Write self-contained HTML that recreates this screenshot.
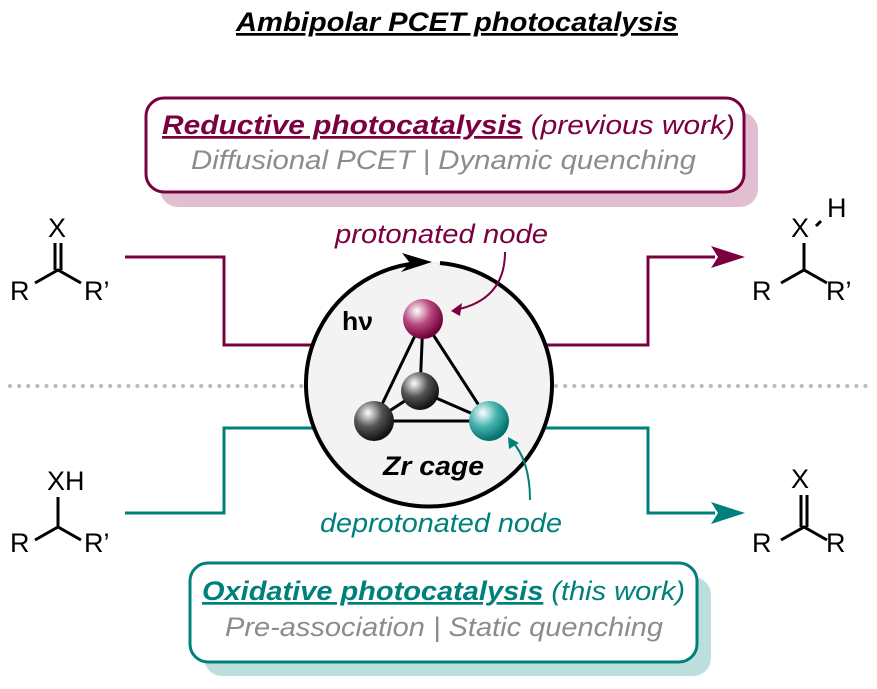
<!DOCTYPE html>
<html><head><meta charset="utf-8"><style>
html,body{margin:0;padding:0;background:#fff;width:877px;height:689px;overflow:hidden}
svg{display:block;font-family:"Liberation Sans",sans-serif}
</style></head><body>
<svg width="877" height="689" viewBox="0 0 877 689">
<defs>
<radialGradient id="gm" cx="0.35" cy="0.3" r="0.7"><stop offset="0" stop-color="#fff"/><stop offset="0.5" stop-color="#b8487e"/><stop offset="1" stop-color="#6e0038"/></radialGradient>
<radialGradient id="gg" cx="0.35" cy="0.3" r="0.7"><stop offset="0" stop-color="#fff"/><stop offset="0.5" stop-color="#555"/><stop offset="1" stop-color="#111"/></radialGradient>
<radialGradient id="gt" cx="0.35" cy="0.3" r="0.7"><stop offset="0" stop-color="#fff"/><stop offset="0.5" stop-color="#45b2ae"/><stop offset="1" stop-color="#00706c"/></radialGradient>
</defs>
<text x="236" y="31" font-size="27" font-weight="bold" font-style="italic" textLength="442" lengthAdjust="spacingAndGlyphs" text-decoration="underline" fill="#000">Ambipolar PCET photocatalysis</text>

<!-- top box -->
<rect x="160" y="112" width="598" height="95" rx="18" fill="#e2bfd0"/>
<rect x="146" y="98" width="598" height="94" rx="18" fill="#fff" stroke="#7a0040" stroke-width="3"/>
<text x="162" y="134" font-size="27" font-style="italic" fill="#7a0040" textLength="573" lengthAdjust="spacingAndGlyphs"><tspan font-weight="bold" text-decoration="underline">Reductive photocatalysis</tspan> (previous work)</text>
<text x="191" y="169" font-size="27" font-style="italic" fill="#8c8c8c" textLength="505" lengthAdjust="spacingAndGlyphs">Diffusional PCET | Dynamic quenching</text>

<!-- bottom box -->
<rect x="204" y="577" width="507" height="99" rx="18" fill="#bcdedd"/>
<rect x="190" y="563" width="507" height="99" rx="18" fill="#fff" stroke="#00807b" stroke-width="3"/>
<text x="202" y="600" font-size="27" font-style="italic" fill="#00807b" textLength="483" lengthAdjust="spacingAndGlyphs"><tspan font-weight="bold" text-decoration="underline">Oxidative photocatalysis</tspan> (this work)</text>
<text x="225" y="636" font-size="27" font-style="italic" fill="#8c8c8c" textLength="438" lengthAdjust="spacingAndGlyphs">Pre-association | Static quenching</text>

<!-- dotted -->
<line x1="10" y1="386" x2="870" y2="386" stroke="#bbb" stroke-width="4" stroke-dasharray="0.1 9" stroke-linecap="round"/>

<!-- connectors -->
<polyline points="125,257 224,257 224,345 320,345" fill="none" stroke="#7a0040" stroke-width="3"/>
<polyline points="545,345 648,345 648,257 715,257" fill="none" stroke="#7a0040" stroke-width="3"/>
<polygon points="745,257 711,246 718,257 711,268" fill="#7a0040"/>
<polyline points="125,513 224,513 224,428 320,428" fill="none" stroke="#00807b" stroke-width="3"/>
<polyline points="545,428 648,428 648,513 715,513" fill="none" stroke="#00807b" stroke-width="3"/>
<polygon points="745,513 711,502 718,513 711,524" fill="#00807b"/>

<!-- circle -->
<circle cx="431" cy="385" r="123" fill="#f3f3f3"/>
<path d="M 440 263 A 123 122 0 1 1 418 263" fill="none" stroke="#000" stroke-width="4"/>
<polygon points="432,262 402,253 410,263 401,272" fill="#000"/>
<text x="342" y="330" font-size="26" font-weight="bold" fill="#000" textLength="31" lengthAdjust="spacingAndGlyphs">hν</text>

<!-- cage -->
<g stroke="#000" stroke-width="3">
<line x1="423" y1="319" x2="374" y2="421"/>
<line x1="423" y1="319" x2="489" y2="421"/>
<line x1="423" y1="319" x2="420" y2="391"/>
<line x1="374" y1="421" x2="489" y2="421"/>
<line x1="374" y1="421" x2="420" y2="391"/>
<line x1="420" y1="391" x2="489" y2="421"/>
</g>
<circle cx="420" cy="391" r="19" fill="url(#gg)"/>
<circle cx="374" cy="421" r="20" fill="url(#gg)"/>
<circle cx="489" cy="421" r="20" fill="url(#gt)"/>
<circle cx="423" cy="319" r="20" fill="url(#gm)"/>
<text x="383" y="475" font-size="27" font-weight="bold" font-style="italic" fill="#000" textLength="101" lengthAdjust="spacingAndGlyphs">Zr cage</text>

<!-- labels -->
<text x="335" y="243" font-size="27" font-style="italic" fill="#7a0040" textLength="213" lengthAdjust="spacingAndGlyphs">protonated node</text>
<path d="M505 252 Q 505 300 455 310" fill="none" stroke="#7a0040" stroke-width="2"/>
<polygon points="451,311 462,303 460,316" fill="#7a0040"/>
<text x="320" y="532" font-size="27" font-style="italic" fill="#00807b" textLength="242" lengthAdjust="spacingAndGlyphs">deprotonated node</text>
<path d="M530 500 Q 530 460 511 440" fill="none" stroke="#00807b" stroke-width="2"/>
<polygon points="508,437 519,443 509,449" fill="#00807b"/>

<!-- molecules -->
<g font-size="27" fill="#000" stroke="none">
<text x="48" y="237">X</text>
<text x="10" y="300">R</text><text x="84" y="300">R’</text>
<text x="47" y="490">XH</text>
<text x="10" y="552">R</text><text x="84" y="552">R’</text>
<text x="791" y="237">X</text><text x="827" y="217">H</text>
<text x="752" y="300">R</text><text x="826" y="300">R’</text>
<text x="791" y="488">X</text>
<text x="752" y="552">R</text><text x="826" y="552">R</text>
</g>
<g stroke="#000" stroke-width="3" fill="none">
<line x1="55" y1="243" x2="55" y2="270"/><line x1="61" y1="243" x2="61" y2="270"/>
<polyline points="35,283 58,270 81,283"/>
<line x1="58" y1="497" x2="58" y2="527"/>
<polyline points="35,540 58,527 81,540"/>
<line x1="804" y1="243" x2="804" y2="270"/>
<polyline points="781,283 804,270 827,283"/>
<line x1="816" y1="226" x2="821" y2="221"/>
<line x1="801" y1="495" x2="801" y2="527"/><line x1="807" y1="495" x2="807" y2="527"/>
<polyline points="781,540 804,527 827,540"/>
</g>
</svg>
</body></html>
